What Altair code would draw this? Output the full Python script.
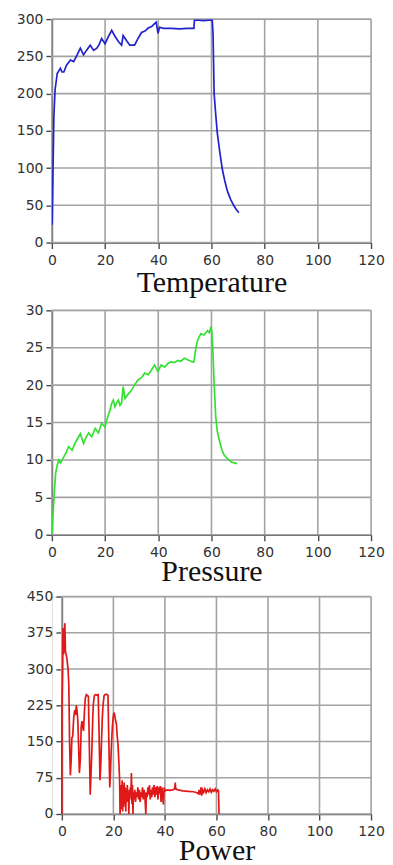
import altair as alt
import pandas as pd

# ---------------- data ----------------
temp_x = [0.1, 0.4, 0.75, 1.2, 2.0, 3.2, 3.8, 4.5, 5.5, 7.0, 8.2, 9.5, 10.7, 11.9, 13.0, 14.4,
          15.7, 16.9, 17.8, 18.7, 20.0, 21.2, 22.5, 23.7, 25.0, 26.2, 26.8, 28.1, 29.3, 31.1,
          32.4, 33.7, 35.0, 36.2, 37.5, 38.6, 39.2, 39.9, 40.5, 42.0, 45.0, 48.0, 51.0, 53.4,
          53.6, 55.0, 57.0, 59.0, 60.3, 60.6, 61.0, 61.6, 62.2, 63.2, 64.1, 65.0, 66.0, 67.2,
          68.5, 69.4, 70.3]
temp_y = [24, 90, 170, 205, 227, 234, 229, 229, 238, 245, 243, 252, 261, 252, 258, 265,
          258, 261, 266, 274, 267, 276, 285, 277, 270, 265, 278, 271, 265, 265,
          274, 282, 284, 288, 290, 294, 296, 281, 289, 287.5, 287.5, 287, 287.5, 287.5,
          298.5, 298.5, 298, 298.5, 298.5, 280, 200, 172, 147, 120, 98, 83, 69, 58,
          49, 44, 40]

press_x = [0.1, 0.4, 0.75, 1.4, 2.0, 2.6, 3.2, 4.5, 5.4, 6.3, 7.6, 8.8, 10.1, 10.7, 11.9,
           12.8, 13.8, 15.0, 16.3, 17.5, 18.7, 20.0, 20.6, 21.9, 22.5, 23.1, 23.7, 24.3, 25.0,
           25.6, 26.2, 26.8, 27.5, 28.7, 29.9, 31.2, 32.4, 33.7, 34.9, 36.2, 37.4, 38.6, 39.9,
           41.1, 42.4, 43.6, 44.8, 46.0, 47.3, 48.5, 49.8, 51.6, 52.8, 53.4, 54.2, 54.8, 56.0,
           57.2, 58.5, 59.2, 59.8, 60.1, 60.5, 61.0, 61.6, 62.2, 62.9, 63.8, 64.7, 65.9, 67.2,
           68.5, 69.7]
press_y = [0.2, 2.5, 4.7, 8.2, 9.3, 10.0, 9.6, 10.4, 11.0, 11.8, 11.3, 12.3, 13.1, 13.5, 12.2,
           13.0, 13.6, 13.1, 14.2, 13.6, 14.9, 14.4, 15.3, 16.7, 17.6, 18.0, 17.1, 17.6, 18.0,
           17.3, 17.6, 19.8, 18.2, 18.8, 19.3, 20.1, 20.7, 21.0, 21.6, 21.4, 22.0, 22.7, 21.8,
           22.7, 22.4, 22.9, 23.1, 23.0, 23.3, 23.2, 23.6, 23.3, 23.1, 23.1, 25.1, 26.0, 26.9,
           26.7, 27.3, 27.0, 27.8, 27.3, 25.0, 20.2, 15.8, 13.8, 12.7, 11.5, 10.7, 10.2, 9.8,
           9.6, 9.5]

power_x = [0.0, 0.05, 0.3, 0.45, 0.7, 1.0, 1.15, 1.4, 1.7, 2.0, 2.4, 2.7, 3.0, 3.3, 3.6, 3.9,
           4.2, 4.6, 5.0, 5.3, 5.6, 5.9, 6.2, 6.5, 6.8, 7.2, 7.5, 7.8, 8.1, 8.4, 8.8, 9.1, 9.5,
           10.0, 10.3, 10.6, 11.0, 11.3, 11.6, 12.0, 12.2, 12.6, 13.0, 13.5, 14.1, 14.4, 14.8,
           15.1, 15.4, 15.7, 16.0, 16.4, 16.7, 17.3, 17.9, 18.2, 18.6, 18.9, 19.2, 19.6, 19.9,
           20.2, 20.5, 20.8, 21.2, 21.5, 21.8, 22.1, 22.4, 22.6, 22.8, 23.0, 23.2, 23.4, 23.6,
           23.8, 24.0, 24.2, 24.4, 24.6, 24.8, 25.0, 25.2, 25.4, 25.6, 25.8, 26.0, 26.2, 26.4,
           26.6, 26.8, 27.0, 27.2, 27.4, 27.6, 27.8, 28.0, 28.3, 28.6, 28.9, 29.2, 29.5, 29.8,
           30.1, 30.4, 30.7, 31.0, 31.3, 31.6, 31.9, 32.2, 32.6, 32.8, 33.1, 33.4, 33.7, 34.0,
           34.3, 34.6, 34.9, 35.2, 35.5, 35.8, 36.1, 36.4, 36.7, 37.0, 37.3, 37.6, 37.9, 38.2,
           38.5, 38.8, 39.1, 39.4, 39.7, 40.0, 41.0, 42.0, 43.0, 43.8, 44.0, 44.2, 45.0, 47.0,
           49.0, 51.0, 52.5, 53.0, 53.3, 53.6, 54.0, 54.3, 54.6, 55.0, 55.5, 56.0, 56.5, 57.0,
           57.5, 58.0, 58.5, 59.0, 59.5, 60.0, 60.5, 60.8, 61.0]
power_y = [0, 220, 300, 385, 330, 380, 395, 336, 330, 320, 300, 268, 150, 80, 110, 158,
           160, 199, 215, 205, 225, 213, 193, 140, 85, 116, 180, 192, 180, 172, 215, 240, 247,
           245, 243, 160, 40, 80, 123, 200, 226, 245, 247, 246, 247, 180, 70,
           100, 151, 200, 226, 245, 247, 248, 246, 160, 55, 90, 137, 180, 199,
           210, 205, 195, 185, 160, 144, 110, 75, 0, 60, 47, 10, 70, 5,
           60, 15, 65, 20, 55, 5, 50, 25, 60, 30, 45, 0, 50, 30,
           55, 40, 85, 20, 60, 0, 45, 30, 50, 25, 45, 35, 55, 30,
           50, 25, 45, 35, 55, 30, 50, 40, 0, 45, 35, 55, 40, 60,
           30, 50, 35, 55, 40, 60, 35, 55, 40, 58, 30, 55, 42, 58,
           25, 55, 40, 20, 55, 48, 50, 49, 50, 52, 65, 52, 50, 48,
           47, 46, 44, 42, 50, 40, 55, 38, 50, 45, 52, 44, 50, 46,
           52, 45, 50, 47, 52, 46, 50, 48, 0]

x_ticks = [0, 20, 40, 60, 80, 100, 120]
temp_ticks = [0, 50, 100, 150, 200, 250, 300]
press_ticks = [0, 5, 10, 15, 20, 25, 30]
power_ticks = [0, 75, 150, 225, 300, 375, 450]
titles = ["Temperature", "Pressure", "Power"]
colors = ["#2222cc", "#33e033", "#e01818"]

GRID = "#a3a3a3"
AXIS = "#4a4a4a"
LABEL = "#333333"


def panel(xs, ys, yticks, title, color, width, height, shift=0, tpad=0):
    ymax = yticks[-1]
    xscale = alt.Scale(domain=[0, 120], nice=False, zero=False,
                       **({"range": [shift, width]} if shift else {}))
    yscale = alt.Scale(domain=[0, ymax], nice=False)
    xaxis = alt.Axis(values=x_ticks, grid=False, domainColor=AXIS, domainWidth=1.6,
                     tickColor=AXIS, tickSize=6, tickWidth=1.4, labelFont="DejaVu Sans",
                     labelFontSize=14, labelColor=LABEL, labelPadding=5, labelFlush=False,
                     title=title, titleFont="Liberation Serif", titleFontSize=30,
                     titleFontWeight="normal", titleColor="#111111", titlePadding=tpad)
    yaxis = alt.Axis(values=yticks, grid=False, domainColor=AXIS, domainWidth=1.6,
                     tickColor=AXIS, tickSize=6, tickWidth=1.4, labelFont="DejaVu Sans",
                     labelFontSize=14, labelColor=LABEL, labelPadding=3, labelFlush=False,
                     title=None, offset=-shift)
    hg = pd.DataFrame({"v": yticks, "a": [0] * len(yticks), "b": [120] * len(yticks)})
    vg = pd.DataFrame({"u": x_ticks, "lo": [0] * len(x_ticks), "hi": [ymax] * len(x_ticks)})
    h_rules = alt.Chart(hg).mark_rule(color=GRID, strokeWidth=1.6).encode(
        x=alt.X("a:Q", scale=xscale, axis=xaxis), x2="b:Q",
        y=alt.Y("v:Q", scale=yscale, axis=yaxis))
    v_rules = alt.Chart(vg).mark_rule(color=GRID, strokeWidth=1.6).encode(
        x=alt.X("u:Q", scale=xscale, axis=xaxis),
        y=alt.Y("lo:Q", scale=yscale, axis=yaxis), y2="hi:Q")
    df = pd.DataFrame({"x": xs, "y": ys, "i": list(range(len(xs)))})
    line = alt.Chart(df).mark_line(color=color, strokeWidth=1.7, clip=True).encode(
        x=alt.X("x:Q", scale=xscale, axis=xaxis),
        y=alt.Y("y:Q", scale=yscale, axis=yaxis),
        order="i:Q")
    return alt.layer(h_rules, v_rules, line).properties(width=width, height=height)


p1 = panel(temp_x, temp_y, temp_ticks, titles[0], colors[0], 320, 224, tpad=0)
p2 = panel(press_x, press_y, press_ticks, titles[1], colors[1], 320, 225, tpad=-3)
p3 = panel(power_x, power_y, power_ticks, titles[2], colors[2], 320, 218, shift=10, tpad=-3)

chart = alt.vconcat(alt.vconcat(p1, p2, spacing=4), p3, spacing=1).properties(
    padding={"left": 7, "top": 2, "right": 0, "bottom": 0}
).configure_view(stroke=None).configure(background="white")

chart.save("out.html", embed_options={"renderer": "svg", "actions": False})
